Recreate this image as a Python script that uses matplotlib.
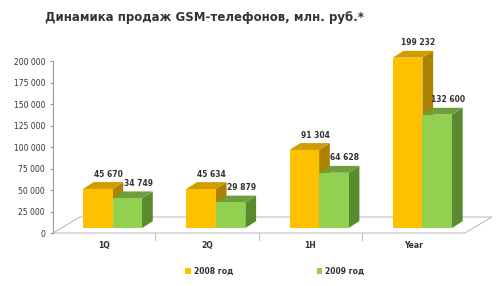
import matplotlib
matplotlib.use("Agg")
import matplotlib.pyplot as plt
from matplotlib.patches import Polygon, Rectangle, Patch
from matplotlib.ticker import FuncFormatter

# данные
categories = ["1Q", "2Q", "1H", "Year"]
sales_2008 = [45670, 45634, 91304, 199232]
sales_2009 = [34749, 29879, 64628, 132600]
series_names = ["2008 год", "2009 год"]
y_ticks = [0, 25000, 50000, 75000, 100000, 125000, 150000, 175000, 200000]

# цвета: фронт, верх, бок
yellow = ("#FFC000", "#CF9D00", "#AC8200")
green = ("#92D050", "#6F9E3B", "#5A8A2E")
text_col = "#333333"

fig = plt.figure(figsize=(5, 2.86), dpi=100)

# оси для столбиков (на весь рисунок)
ax = fig.add_axes([0, 0, 1, 1])
ax.set_xlim(-1.089, 3.751)
ax.set_ylim(-67840, 266670)
ax.axis("off")

w = 0.286      # ширина столбика
dx = 0.104     # глубина столбика по x
dy = 8000      # глубина столбика по y
fdx = 0.26     # глубина "пола"
f_front = -5850
f_back = 12870
f_left = -0.576
f_right = 3.412
shift = -0.085  # сдвиг подписей на переднем крае пола

# пол
floor = Polygon([(f_left, f_front), (f_left + fdx, f_back), (f_right + fdx, f_back),
                 (f_right, f_front)], closed=True, fc="white", ec="#C0C0C0", lw=0.8, zorder=1)
ax.add_patch(floor)
for i in range(len(categories) - 1):
    xs = i + 0.5 + shift
    ax.plot([xs, xs], [f_front, f_front - 8500], color="#C0C0C0", lw=0.8, zorder=1)


def bar3d(x0, v, cols, z):
    front, top, side = cols
    ax.add_patch(Polygon([(x0 + w, 0), (x0 + w + dx, dy), (x0 + w + dx, v + dy), (x0 + w, v)],
                         closed=True, fc=side, ec="none", zorder=z))
    ax.add_patch(Polygon([(x0, v), (x0 + dx, v + dy), (x0 + w + dx, v + dy), (x0 + w, v)],
                         closed=True, fc=top, ec="none", zorder=z))
    ax.add_patch(Rectangle((x0, 0), w, v, fc=front, ec="none", zorder=z))
    ax.text(x0 + w / 2 + dx, v + dy + 9400, f"{v:,}".replace(",", " "), ha="center", va="center",
            fontsize=5.5, fontweight="bold", color=text_col, zorder=10)


for i, (a, b) in enumerate(zip(sales_2008, sales_2009)):
    bar3d(i - w, a, yellow, 2 + 2 * i)
    bar3d(i, b, green, 3 + 2 * i)
    ax.text(i + shift, -21000, categories[i], ha="center", va="center",
            fontsize=5.5, fontweight="bold", color=text_col)

# ось значений
ax2 = fig.add_axes([0.106, 0.1853, 0.001, 0.6014])
ax2.set_ylim(0, 200000)
ax2.set_yticks(y_ticks)
ax2.yaxis.set_major_formatter(FuncFormatter(lambda v, p: f"{int(v):,}".replace(",", " ")))
ax2.tick_params(axis="y", direction="out", length=2.2, width=0.8, color="#999999",
                labelsize=5.5, labelcolor=text_col, pad=3.5)
ax2.set_xticks([])
for s in ["top", "right", "bottom"]:
    ax2.spines[s].set_visible(False)
ax2.spines["left"].set_color("#999999")
ax2.spines["left"].set_linewidth(0.8)
ax2.patch.set_visible(False)

# заголовок
fig.text(0.09, 0.94, "Динамика продаж GSM-телефонов, млн. руб.*", ha="left", va="center",
         fontsize=8.5, fontweight="bold", color=text_col)

# легенда
handles = [Patch(fc=yellow[0], ec="none"), Patch(fc=green[0], ec="none")]
leg = ax.legend(handles, series_names, loc="center", bbox_to_anchor=(0.55, 0.052), ncol=2,
                frameon=False, handlelength=0.7, handleheight=0.7, handletextpad=0.4,
                columnspacing=11, prop={"size": 5.5, "weight": "bold"})
for t in leg.get_texts():
    t.set_color(text_col)

fig.savefig("out.png", dpi=100)
